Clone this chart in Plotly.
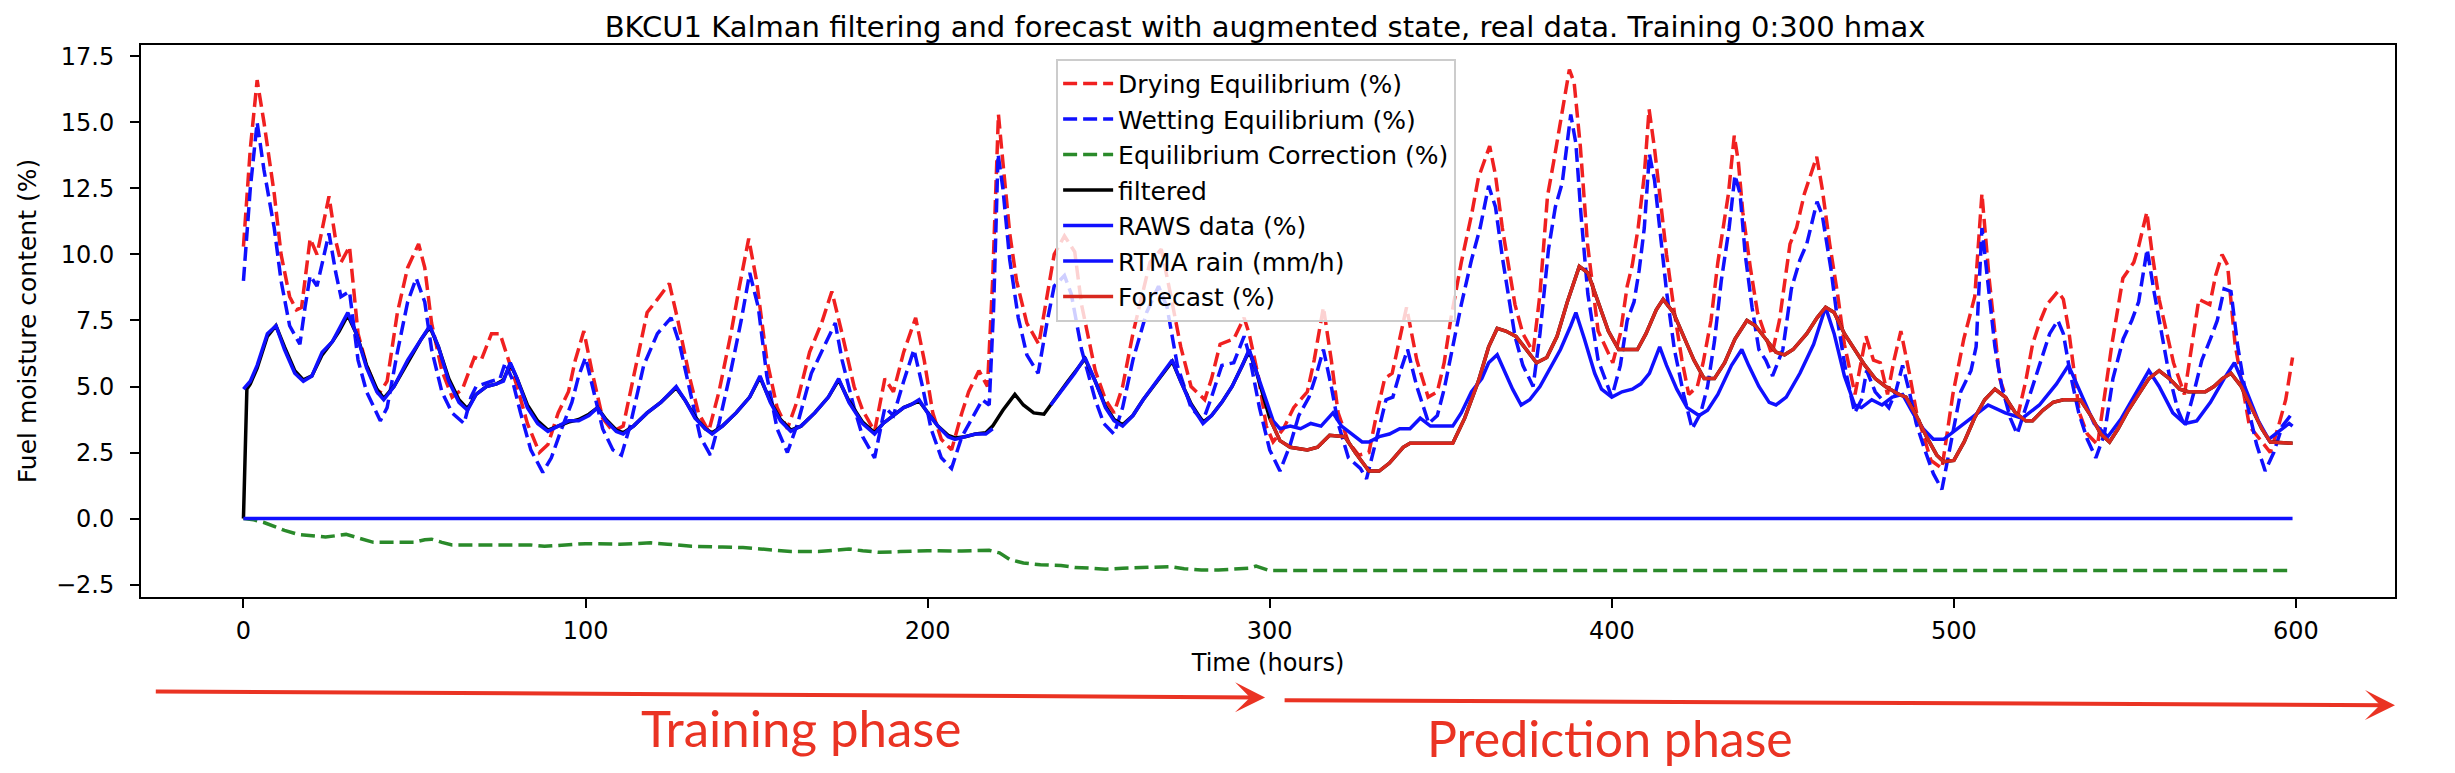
import plotly.graph_objects as go

# (hour, value) at peaks, troughs and bends
drying_pts = [
    (0, 10.3), (2, 14.0), (4, 16.6), (6, 15.0), (9, 12.3), (11, 10.0), (13.5, 8.4), (15.5, 7.9),
    (17, 8.0), (19.5, 10.6), (21.5, 10.0), (25, 12.2), (27, 10.5), (28.5, 9.7), (31, 10.3),
    (33.5, 7.0), (36, 5.8), (39.5, 4.7), (42, 5.2), (45, 7.8), (48, 9.5), (51.2, 10.4), (53, 9.5),
    (55, 7.4), (58, 5.6), (61, 4.6), (64, 4.9), (66, 5.6), (67.5, 6.1), (69.5, 6.0), (72.5, 7.0),
    (75, 7.0), (77, 6.2), (80, 5.0), (83, 3.6), (86.5, 2.5), (89, 2.8), (92, 4.0), (95, 4.8),
    (97, 6.0), (99.5, 7.1), (102, 5.5), (105, 3.8), (108, 3.3), (111, 3.5), (114, 5.3), (118, 7.8),
    (121, 8.3), (124.5, 8.9), (127, 7.5), (130.5, 5.3), (133, 4.0), (136, 3.3), (139, 4.8),
    (142.5, 7.0), (145, 8.8), (147.7, 10.6), (150, 9.0), (153, 6.0), (156, 4.2), (159, 3.4),
    (162, 4.5), (165.5, 6.3), (169, 7.4), (172, 8.6), (175, 7.0), (178.5, 5.0), (181, 4.1),
    (184.5, 3.3), (187.5, 5.3), (190, 4.8), (193, 6.3), (196.5, 7.6), (199, 6.0), (201.5, 4.0),
    (204, 3.0), (207, 2.6), (210, 4.0), (212, 4.8), (215, 5.6), (217.5, 5.0), (219, 9.0),
    (220.7, 15.3), (222, 13.5), (224, 10.8), (226, 9.0), (229, 7.4), (232.5, 6.6), (235, 8.5),
    (237, 10.0), (240, 10.7), (243, 10.1), (245, 8.1), (249, 5.6), (252, 4.5), (254.5, 4.0),
    (257, 5.0), (260, 7.0), (265, 9.7), (268.3, 10.2), (271, 8.5), (274, 6.5), (277, 5.0),
    (281, 4.5), (283, 5.3), (285.5, 6.6), (289.5, 6.8), (292.5, 7.6), (294, 7.0), (296.8, 5.3),
    (299, 3.5), (301, 2.9), (304, 3.4), (307, 4.2), (311, 4.8), (313, 6.0), (315.7, 8.0),
    (318, 6.0), (320, 4.0), (323, 2.9), (326, 2.4), (329, 2.5), (331, 3.8), (333.6, 5.3),
    (335.8, 5.5), (338, 6.8), (340, 8.0), (343, 6.0), (346.3, 4.6), (349, 4.8), (351, 5.9),
    (353, 7.6), (356, 9.7), (359, 11.5), (361, 12.9), (364.3, 14.1), (366, 13.0), (368, 11.0),
    (371.7, 8.1), (374, 7.0), (377, 6.3), (379, 8.5), (381.2, 12.2), (383, 13.5), (385.5, 15.4),
    (387.6, 17.0), (389, 16.5), (390.8, 14.1), (392.9, 10.4), (396, 7.1), (400.3, 5.9),
    (402.5, 7.0), (404.5, 8.8), (406, 9.6), (407.7, 11.0), (409.5, 13.0), (410.9, 15.5),
    (412.5, 14.0), (414, 12.3), (416, 10.0), (418.3, 7.8), (420.5, 6.0), (422.5, 4.7), (425, 5.0),
    (426.7, 5.9), (429, 7.5), (431, 9.7), (434.1, 12.3), (435.8, 14.5), (437, 13.5), (438.3, 11.6),
    (440.5, 9.5), (442.6, 7.8), (446.8, 6.2), (449, 7.5), (452.1, 10.4), (454, 11.0),
    (456.3, 12.3), (459.9, 13.7), (461.5, 12.5), (463.7, 10.4), (466, 8.5), (468, 6.6),
    (471.1, 4.7), (474.3, 6.9), (476.5, 6.0), (478.5, 5.9), (480.6, 4.7), (482.5, 6.0),
    (484.5, 7.1), (487, 5.5), (489.1, 4.0), (491, 3.2), (493.3, 2.2), (496.5, 1.9), (499.7, 4.7),
    (502.9, 6.8), (506.1, 8.4), (508.2, 12.3), (510.3, 9.1), (513.4, 5.3), (516, 4.3),
    (518.7, 3.9), (521, 5.2), (523, 6.6), (525, 7.4), (527.2, 8.1), (530.4, 8.6), (532, 8.3),
    (533.5, 7.2), (536.7, 4.0), (539, 3.2), (542, 2.8), (546.2, 6.6), (549.4, 9.1), (552.6, 9.7),
    (554, 10.3), (556.4, 11.6), (558, 10.0), (560, 8.3), (564.2, 5.9), (567.4, 4.7), (569.5, 6.5),
    (571.6, 8.3), (574.8, 8.1), (576.5, 9.2), (578.4, 10.0), (580, 9.6), (582.2, 6.6),
    (586.4, 3.5), (590.7, 2.8), (592.5, 2.5), (594.9, 3.5), (597, 4.5), (599, 6.1),
]

wetting_pts = [
    (0, 9.0), (2, 12.5), (4, 15.0), (6, 13.2), (9, 11.0), (11, 9.0), (13.5, 7.3), (16.5, 6.6),
    (18, 8.0), (19.5, 9.2), (21.5, 8.8), (25, 10.8), (27, 9.3), (28.5, 8.4), (31, 8.6),
    (33.5, 6.0), (36, 4.8), (40, 3.7), (42, 4.2), (45, 6.3), (48, 8.2), (50.5, 9.1), (53, 8.2),
    (55, 6.4), (58, 4.8), (61, 4.0), (64.5, 3.6), (66.5, 4.6), (68, 5.0), (70, 5.1), (72.5, 5.2),
    (75, 5.3), (76.5, 5.9), (78.5, 5.3), (81, 4.0), (84, 2.6), (87.5, 1.75), (90, 2.3), (93, 3.4),
    (96, 4.4), (98, 5.4), (100, 6.1), (102, 5.0), (105, 3.4), (108, 2.6), (110.5, 2.4), (113, 3.5),
    (117, 5.8), (121, 7.0), (125, 7.6), (127.5, 6.6), (131, 4.6), (133.5, 3.1), (136.5, 2.4),
    (139, 3.6), (142.5, 5.6), (145.5, 7.5), (148, 9.3), (150.5, 8.0), (153, 5.4), (156, 3.4),
    (159, 2.5), (162, 3.6), (166, 5.5), (170, 6.6), (173, 7.4), (175, 6.0), (178.5, 4.2),
    (181, 3.1), (184.5, 2.3), (187.5, 4.2), (190, 3.9), (193, 5.2), (196, 6.4), (198.5, 5.0),
    (201, 3.4), (204, 2.3), (207, 1.9), (210, 3.1), (213, 3.8), (216, 4.5), (218, 4.3),
    (219.3, 8.0), (220.6, 13.8), (222, 12.5), (224, 9.8), (226.5, 7.6), (229, 6.2), (232.3, 5.5),
    (235, 7.5), (237, 8.8), (240, 9.2), (242, 8.5), (245, 6.4), (249, 4.5), (251.5, 3.6),
    (254.5, 3.2), (257, 4.2), (260, 6.0), (264, 7.8), (267.5, 8.8), (270, 8.0), (273, 5.8),
    (277, 4.2), (280.5, 3.7), (283, 4.6), (286, 5.8), (289.5, 5.9), (292.5, 6.9), (294, 6.2),
    (297, 4.2), (300, 2.6), (303, 1.8), (306, 2.8), (308.5, 3.9), (311.5, 4.6), (313.5, 5.4),
    (315.7, 6.4), (318, 5.0), (320, 3.6), (323, 2.3), (326.5, 1.9), (328.3, 1.5), (331, 2.9),
    (334, 4.5), (336, 4.6), (338, 5.5), (340.3, 6.4), (343, 5.0), (346.5, 3.6), (349, 3.9),
    (351, 4.9), (353.5, 6.5), (356, 8.1), (359, 9.8), (361.5, 11.0), (364, 12.6), (366, 11.8),
    (368, 9.9), (371.7, 6.9), (374, 5.8), (377, 5.0), (379, 7.0), (381.5, 10.2), (383.5, 11.8),
    (385.5, 12.7), (388, 15.3), (389.5, 14.2), (391, 11.5), (393, 8.5), (396, 6.0), (400, 4.6),
    (402.5, 5.8), (404.5, 7.5), (406.5, 8.2), (408, 9.4), (409.5, 11.0), (411, 13.8),
    (412.5, 12.8), (414, 11.0), (416, 8.6), (418.3, 6.4), (421, 4.7), (423.5, 3.4), (426, 4.0),
    (428, 5.0), (430, 6.7), (432, 9.0), (434.3, 11.0), (436, 13.0), (437.5, 12.3), (439, 10.0),
    (441, 8.0), (443, 6.4), (445, 6.0), (447, 5.4), (450, 6.4), (452.5, 8.7), (455, 9.8),
    (457, 10.4), (460, 12.0), (461.5, 11.5), (464, 9.5), (466, 7.5), (468.5, 5.5), (471, 4.0),
    (473, 4.5), (474.5, 5.6), (477, 4.8), (479, 4.5), (481, 4.2), (483, 4.8), (485, 5.8),
    (487, 4.8), (489, 3.6), (491.5, 2.6), (494, 1.7), (496.5, 1.1), (499, 2.8), (502, 4.8),
    (505, 5.6), (506.5, 6.5), (508.2, 11.0), (510, 8.8), (512, 6.5), (514, 5.0), (516.5, 3.8),
    (518.5, 3.2), (521, 4.2), (523.5, 5.2), (526, 6.3), (528, 7.0), (530.4, 7.5), (532, 7.0),
    (534, 5.5), (536.5, 4.0), (539, 3.0), (541.5, 2.3), (544, 3.2), (546.5, 5.3), (549.5, 6.8),
    (552, 7.5), (554, 8.2), (556.5, 10.2), (558.5, 8.6), (560.5, 7.2), (563, 5.4), (565.5, 4.1),
    (567.5, 3.5), (570, 4.7), (572.5, 6.0), (575, 6.8), (577, 7.5), (579, 8.7), (581, 8.6),
    (583, 6.5), (586, 4.2), (588.5, 2.8), (591, 1.8), (593.5, 2.5), (596, 3.5), (599, 4.0),
]

correction_pts = [
    (0, 0.0), (3, -0.05), (6, -0.15), (9, -0.3), (12, -0.45), (16, -0.6), (20, -0.65),
    (24, -0.7), (27, -0.65), (30, -0.6), (34, -0.75), (38, -0.9), (44, -0.9), (50, -0.9),
    (53, -0.8), (55, -0.78), (58, -0.9), (61, -1.0), (70, -1.0), (78, -1.0), (84, -1.0),
    (88, -1.05), (94, -1.0), (100, -0.95), (110, -0.97), (119, -0.92), (124, -0.97),
    (131, -1.05), (140, -1.08), (146, -1.1), (151, -1.15), (156, -1.2), (160, -1.25),
    (168, -1.25), (174, -1.2), (177, -1.15), (181, -1.22), (186, -1.28), (192, -1.25),
    (200, -1.22), (210, -1.23), (218, -1.2), (221, -1.3), (224, -1.55), (228, -1.68),
    (233, -1.75), (239, -1.78), (243, -1.85), (248, -1.88), (252, -1.92), (257, -1.88),
    (262, -1.87), (268, -1.85), (271, -1.82), (275, -1.9), (280, -1.95), (285, -1.95),
    (290, -1.9), (294, -1.88), (296, -1.8), (298, -1.9), (300, -1.97), (599, -1.97),
]

filtered_pts = [
    (0, 0.0), (1, 4.9), (2, 5.1), (4, 5.7), (7, 6.9), (9.5, 7.3), (12, 6.5), (15, 5.6),
    (17.5, 5.25), (20, 5.4), (23, 6.2), (26, 6.7), (28, 7.1), (30.5, 7.7), (33, 7.0), (36, 5.8),
    (39, 4.9), (41, 4.55), (44, 5.0), (48, 5.9), (52, 6.8), (54.5, 7.25), (57, 6.5), (60, 5.3),
    (63, 4.5), (65.5, 4.15), (68, 4.7), (71, 5.0), (74, 5.1), (76, 5.25), (78, 5.85), (80, 5.3),
    (83, 4.3), (86, 3.7), (89, 3.35), (92, 3.5), (95, 3.65), (98, 3.75), (101, 3.95),
    (103.5, 4.2), (106, 3.75), (109, 3.35), (111, 3.25), (114, 3.5), (118, 4.0), (122, 4.4),
    (126.5, 4.95), (129, 4.5), (132, 3.85), (135, 3.4), (137, 3.25), (140, 3.5), (144, 4.0),
    (148, 4.6), (151, 5.35), (154, 4.45), (157, 3.75), (160, 3.35), (163, 3.5), (167, 4.0),
    (171, 4.6), (174, 5.25), (177, 4.45), (181, 3.65), (184.5, 3.25), (187, 3.6), (190, 3.9),
    (193, 4.2), (197.5, 4.45), (200, 4.0), (203, 3.5), (206, 3.15), (208, 3.05), (211, 3.1),
    (214, 3.2), (217, 3.25), (219, 3.5), (222, 4.1), (225.5, 4.7), (228, 4.3), (231, 4.0),
    (234, 3.95), (237, 4.5), (241, 5.2), (246, 6.05), (249, 5.2), (252, 4.25), (254.5, 3.75),
    (257, 3.55), (260, 3.9), (263, 4.5), (267, 5.2), (271.5, 5.95), (274, 5.2), (277, 4.35),
    (280.5, 3.65), (283, 3.9), (286, 4.4), (289, 5.0), (292, 5.8), (294, 6.35), (296, 5.6),
    (298, 4.7), (300, 3.8),
]

raws_pts = [
    (0, 4.9), (2, 5.2), (4, 5.8), (7, 7.0), (9.5, 7.3), (12, 6.4), (15, 5.5), (17.5, 5.2),
    (20, 5.4), (23, 6.3), (26, 6.7), (28, 7.2), (30.5, 7.8), (33, 7.0), (36, 5.7), (39, 4.8),
    (41, 4.5), (44, 5.0), (48, 6.0), (52, 6.8), (54.5, 7.3), (57, 6.5), (60, 5.2), (63, 4.4),
    (65.5, 4.1), (68, 4.7), (71, 5.0), (74, 5.1), (76, 5.2), (78, 5.9), (80, 5.3), (83, 4.2),
    (86, 3.6), (89, 3.3), (92, 3.5), (95, 3.7), (98, 3.7), (101, 3.9), (103.5, 4.2), (106, 3.7),
    (109, 3.3), (111, 3.2), (114, 3.5), (118, 4.0), (122, 4.4), (126.5, 5.0), (129, 4.5),
    (132, 3.8), (135, 3.4), (137, 3.2), (140, 3.5), (144, 4.0), (148, 4.6), (151, 5.4),
    (154, 4.4), (157, 3.7), (160, 3.3), (163, 3.5), (167, 4.0), (171, 4.6), (174, 5.3),
    (177, 4.4), (181, 3.6), (184.5, 3.2), (187, 3.6), (190, 3.9), (193, 4.2), (195, 4.3),
    (197.5, 4.5), (200, 4.0), (203, 3.5), (206, 3.1), (208, 3.0), (211, 3.1), (214, 3.2),
    (217, 3.2), (219, 3.4), (220, None), (236, 4.3), (240, 5.0), (243, 5.5), (246, 6.1),
    (249, 5.2), (252, 4.2), (254.5, 3.7), (257, 3.5), (260, 3.9), (263, 4.5), (267, 5.2),
    (271.5, 6.0), (274, 5.2), (277, 4.3), (280.5, 3.6), (283, 3.9), (286, 4.4), (289, 5.0),
    (292, 5.8), (294, 6.4), (296, 5.6), (299, 4.4), (301, 3.7), (303, 3.4), (306, 3.5),
    (309, 3.4), (312, 3.6), (315, 3.5), (318.5, 4.0), (321, 3.5), (324, 3.2), (327, 2.9),
    (329, 2.9), (332, 3.1), (335, 3.2), (338, 3.4), (341, 3.4), (344, 3.8), (347, 3.5),
    (350, 3.5), (353.5, 3.5), (356, 4.0), (359, 4.8), (362, 5.3), (364, 5.9), (366.5, 6.2),
    (369, 5.5), (371, 4.9), (373.5, 4.3), (376, 4.5), (379, 5.0), (382, 5.7), (385, 6.4),
    (388, 7.3), (389.5, 7.8), (392, 6.8), (395, 5.5), (397, 4.9), (400, 4.6), (403, 4.8),
    (406, 4.9), (408.5, 5.1), (411, 5.5), (414, 6.5), (416, 5.8), (419, 4.9), (422, 4.2),
    (425.5, 3.9), (428, 4.1), (431, 4.7), (435, 5.8), (438, 6.4), (440, 5.8), (443, 5.0),
    (446, 4.4), (448, 4.3), (451, 4.6), (455, 5.5), (459, 6.6), (462.5, 8.0), (465, 7.0),
    (468, 5.4), (471, 4.3), (473, 4.2), (476, 4.5), (479, 4.3), (482, 4.6), (485, 4.7),
    (488, 4.0), (491, 3.4), (494, 3.0), (497, 3.0), (502, 3.5), (506, 3.9), (510, 4.3),
    (515, 4.0), (520, 3.8), (525, 4.3), (530, 5.1), (533.5, 5.8), (537, 4.8), (541, 3.6),
    (545, 3.1), (549, 3.8), (553, 4.7), (557, 5.6), (560, 5.0), (564, 4.0), (567.5, 3.6),
    (571, 3.7), (575, 4.4), (579, 5.3), (582, 5.9), (585, 5.0), (589, 3.7), (592, 3.0),
    (595, 3.3), (598, 3.6), (599, 3.5),
]

rtma_rain_pts = [(0, 0.0), (599, 0.0)]

forecast_pts = [
    (300, 3.8), (303, 2.95), (306, 2.7), (311, 2.6), (314, 2.7), (317.5, 3.15), (322, 3.1),
    (325, 2.5), (329, 1.8), (332, 1.8), (335, 2.1), (339, 2.7), (341, 2.85), (353.5, 2.85),
    (357, 3.8), (361, 5.2), (364, 6.5), (366.5, 7.2), (369, 7.1), (372, 6.9), (375, 6.4),
    (378, 5.9), (381, 6.1), (384, 6.9), (387, 8.2), (390.5, 9.55), (393, 9.3), (396, 8.2),
    (399, 7.1), (402, 6.4), (407.5, 6.4), (410, 7.0), (413, 7.9), (415, 8.3), (418, 7.8),
    (421, 6.9), (424, 6.0), (427, 5.3), (430, 5.3), (433, 5.9), (436, 6.8), (439.5, 7.5),
    (442, 7.3), (445, 6.8), (448, 6.3), (450.5, 6.2), (453, 6.4), (457, 7.0), (460, 7.6),
    (462.5, 8.0), (465, 7.8), (468, 7.0), (471, 6.4), (474, 5.8), (477, 5.3), (480, 5.0),
    (484, 4.7), (486, 4.6), (489, 3.9), (492, 3.1), (495, 2.4), (497, 2.15), (500, 2.2),
    (503, 2.9), (506, 3.8), (509, 4.5), (512, 4.9), (515, 4.6), (518, 4.0), (521, 3.7),
    (523, 3.7), (526, 4.1), (529, 4.4), (532, 4.5), (537, 4.5), (540, 3.9), (543, 3.2),
    (545.5, 2.9), (548, 3.4), (551, 4.1), (554, 4.7), (557, 5.3), (560, 5.6), (563, 5.3),
    (566, 4.9), (568.5, 4.8), (573.5, 4.8), (576, 5.0), (578.5, 5.3), (581, 5.5), (584, 5.0),
    (587, 4.2), (590, 3.4), (592.5, 2.9), (599, 2.85),
]

x_ticks = [0, 100, 200, 300, 400, 500, 600]
y_ticks = [-2.5, 0.0, 2.5, 5.0, 7.5, 10.0, 12.5, 15.0, 17.5]


def split(pts):
    return [p[0] for p in pts], [p[1] for p in pts]


RED = "#f02020"
BLUE = "#1010ff"
GREEN = "#2a8a2a"
DASH = "14px,6px"
LW = 3.5

fig = go.Figure()

hx, hy = split(drying_pts)
fig.add_trace(go.Scatter(x=hx, y=hy, mode="lines", name="Drying Equilibrium (%)",
                         legendgroup="a", line=dict(color=RED, width=LW, dash=DASH)))
hx, hy = split(wetting_pts)
fig.add_trace(go.Scatter(x=hx, y=hy, mode="lines", name="Wetting Equilibrium (%)",
                         legendgroup="b", line=dict(color=BLUE, width=LW, dash=DASH)))
hx, hy = split(correction_pts)
fig.add_trace(go.Scatter(x=hx, y=hy, mode="lines", name="Equilibrium Correction (%)",
                         legendgroup="c", line=dict(color=GREEN, width=LW, dash=DASH)))

# filtered state runs on under the forecast (that is what darkens the red line)
fx, fy = split(filtered_pts)
px_, py_ = split(forecast_pts)
fig.add_trace(go.Scatter(x=fx + px_[1:], y=fy + py_[1:], mode="lines", name="filtered",
                         legendgroup="d", line=dict(color="black", width=LW)))
hx, hy = split(raws_pts)
fig.add_trace(go.Scatter(x=hx, y=hy, mode="lines", name="RAWS data (%)",
                         legendgroup="e", line=dict(color=BLUE, width=LW)))
hx, hy = split(rtma_rain_pts)
fig.add_trace(go.Scatter(x=hx, y=hy, mode="lines", name="RTMA rain (mm/h)",
                         legendgroup="f", line=dict(color=BLUE, width=LW)))
fig.add_trace(go.Scatter(x=px_, y=py_, mode="lines", name="Forecast (%)",
                         legendgroup="g", line=dict(color="#d8281e", width=LW)))

axis_style = dict(showgrid=False, zeroline=False, showline=True, mirror=True,
                  linecolor="black", linewidth=2, ticks="outside", ticklen=9,
                  tickwidth=2, tickcolor="black",
                  tickfont=dict(family="DejaVu Sans", size=24, color="black"))

# the page body keeps its default 8px margin, so the figure is 8px smaller
fig.update_layout(
    width=2447, height=765,
    margin=dict(l=133, r=60, t=37, b=176),
    paper_bgcolor="white", plot_bgcolor="white",
    font=dict(family="DejaVu Sans", color="black"),
    title=dict(text="BKCU1 Kalman filtering and forecast with augmented state, real data. Training 0:300 hmax",
               x=0.4987, xref="paper", xanchor="center", y=0.975, yanchor="middle",
               yref="container",
               font=dict(family="DejaVu Sans", size=29, color="black")),
    xaxis=dict(range=[-29.95, 628.95], tickvals=x_ticks, ticklabelstandoff=2,
               title=dict(text="Time (hours)", standoff=10,
                          font=dict(family="DejaVu Sans", size=24, color="black")),
               **axis_style),
    yaxis=dict(range=[-2.97, 17.93], tickvals=y_ticks, tickformat=".1f", ticklabelstandoff=11,
               title=dict(text="Fuel moisture content (%)", standoff=12,
                          font=dict(family="DejaVu Sans", size=25, color="black")),
               **axis_style),
    legend=dict(x=0.406, y=0.975, xanchor="left", yanchor="top",
                bgcolor="rgba(255,255,255,0.8)", bordercolor="#cccccc", borderwidth=2,
                tracegroupgap=0, itemwidth=50,
                font=dict(family="DejaVu Sans", size=25, color="black")),
    showlegend=True,
)

# phase arrows and labels added under the axis
ARROW_RED = "#ea3323"
phases = [
    dict(tail=(0.0059, -0.171), head=(0.4987, -0.182)),
    dict(tail=(0.5067, -0.187), head=(1.0, -0.196)),
]
for ph in phases:
    fig.add_annotation(x=ph["head"][0], y=ph["head"][1], ax=ph["tail"][0], ay=ph["tail"][1],
                       xref="x domain", yref="y domain", axref="x domain", ayref="y domain",
                       text="", showarrow=True, arrowhead=3, arrowsize=1.25, arrowwidth=4,
                       arrowcolor=ARROW_RED, standoff=0)

fig.add_annotation(x=0.221, y=-0.296, xref="x domain", yref="y domain", text="Training phase",
                   showarrow=False, font=dict(family="Lato", size=51, color=ARROW_RED))
fig.add_annotation(x=0.734, y=-0.314, xref="x domain", yref="y domain", text="Prediction phase",
                   showarrow=False, font=dict(family="Lato", size=50, color=ARROW_RED))

fig.write_html("out.html")
